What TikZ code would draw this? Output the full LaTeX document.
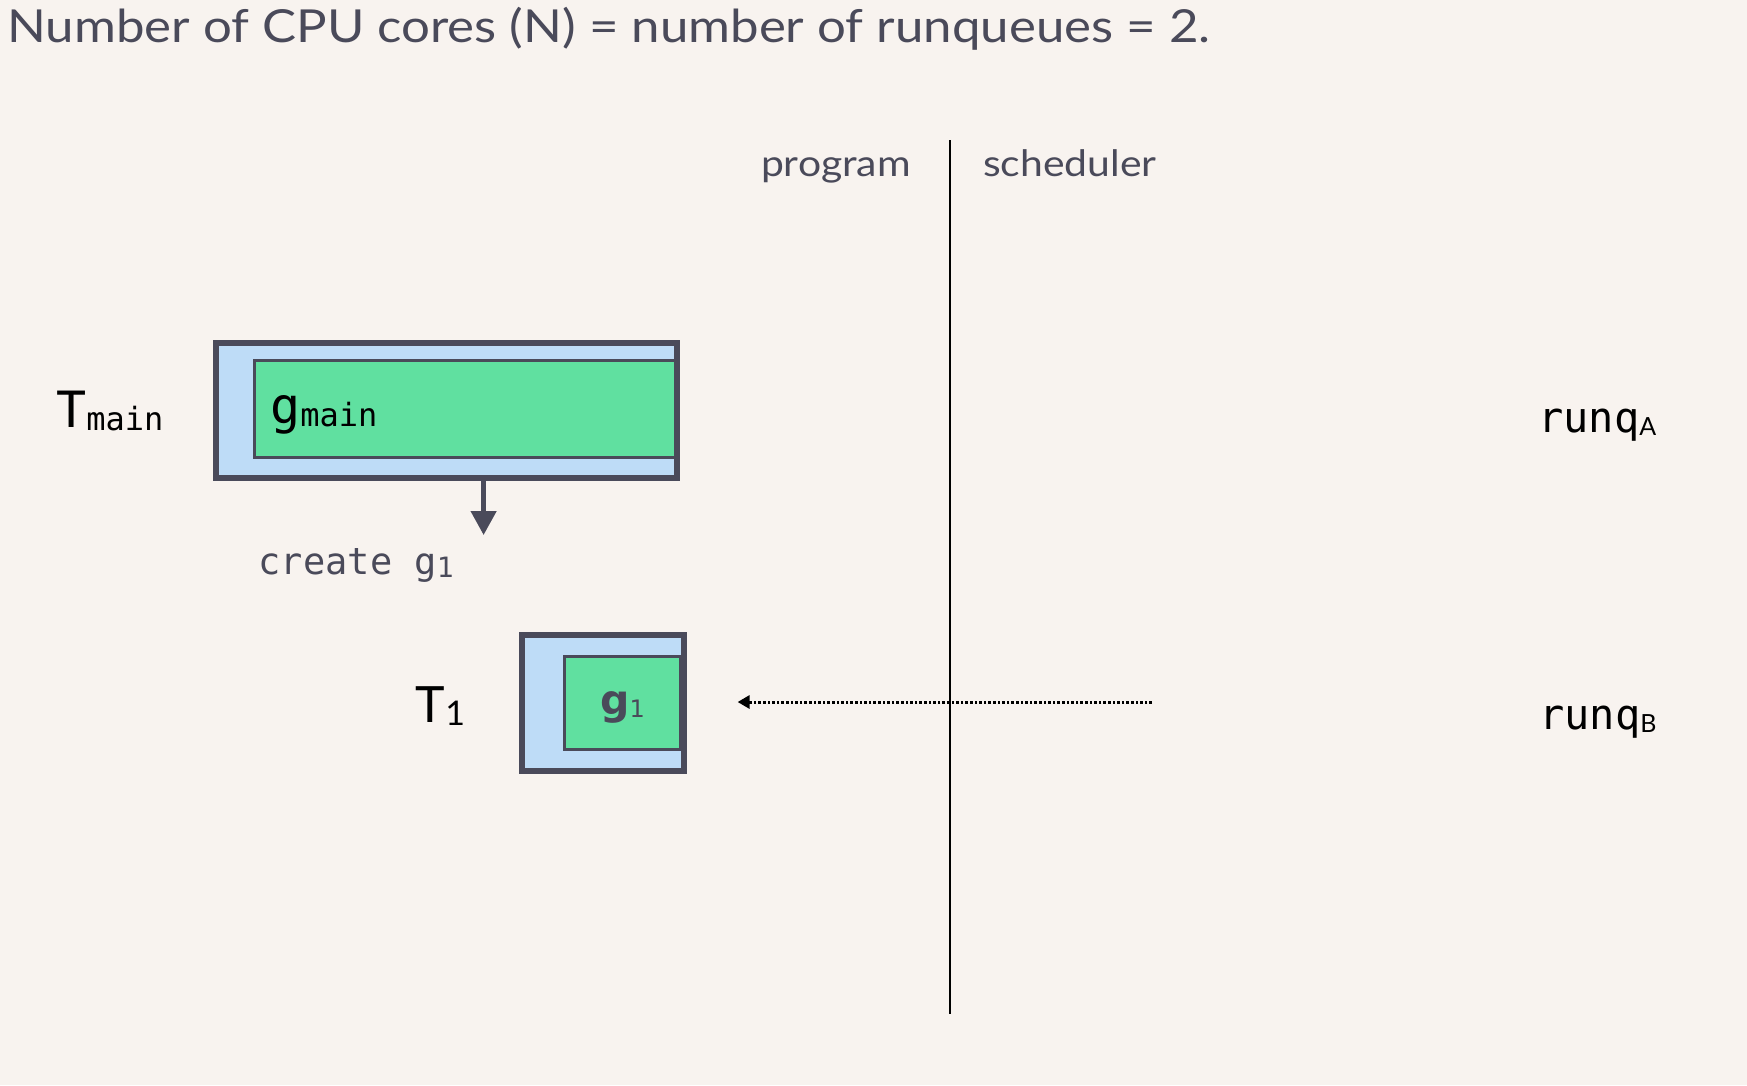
\documentclass[tikz,border=0pt]{standalone}
\usepackage{fontspec}
\setmainfont{Lato}
\newfontfamily\widefont[FakeStretch=1.12]{Lato}
\newfontfamily\monofont{DejaVu Sans Mono}
\newfontfamily\gfont{DejaVu Sans}
\usetikzlibrary{arrows.meta,positioning}
\definecolor{bgcol}{HTML}{F8F3EF}
\definecolor{threadcol}{HTML}{BEDCF7}
\definecolor{gorcol}{HTML}{60E0A0}
\definecolor{inkcol}{HTML}{4A4A5A}
\newcommand{\fsz}[1]{\fontsize{#1}{#1}\selectfont}
\newcommand{\lowsub}[1]{\raisebox{-3pt}{#1}}
\begin{document}
\begin{tikzpicture}[x=1pt,y=-1pt,
  thread/.style={draw=inkcol,fill=threadcol,line width=6pt,inner sep=0pt},
  gor/.style={draw=inkcol,fill=gorcol,line width=2.5pt,inner sep=0pt},
  lbl/.style={anchor=base west,inner sep=0pt}]
  % background
  \useasboundingbox (0,0) rectangle (1747,1085);
  \fill[bgcol] (0,0) rectangle (1747,1085);
  % title
  \node[lbl,text=inkcol] (title) at (7,42) {\widefont\fsz{45.5}Number of CPU cores (N) = number of runqueues = 2.};
  % program | scheduler
  \coordinate (divtop) at (950,140);
  \coordinate (divbot) at (950,1014);
  \draw[line width=2.2pt] (divtop) -- (divbot);
  \node[anchor=base east,inner sep=0pt,text=inkcol] (prog) at (911,176) {\widefont\fsz{36.5}program};
  \node[lbl,text=inkcol] (sched) at (983,176) {\widefont\fsz{36.5}scheduler};
  % thread T_main with g_main
  \node[thread,minimum width=461.4pt,minimum height=135.9pt] (tmain) at (446.3,410.5) {};
  \node[gor,minimum width=421.4pt,minimum height=97.4pt] (gmain) at (465,409) {};
  \node[lbl] (tmainlbl) at (56,427) {\monofont\fsz{50}T\lowsub{\fsz{32}main}};
  \node[lbl] (gmainlbl) at (270,423) {\monofont\fsz{50}g\lowsub{\fsz{32}main}};
  % create g1
  \coordinate (createtip) at (483.6,535);
  \draw[inkcol,line width=4.5pt,-{Triangle[width=25pt,length=24pt]}] (tmain.south -| createtip) -- (createtip);
  \node[lbl,text=inkcol] (createlbl) at (258.5,574) {\monofont\fsz{37}create g\lowsub{\fsz{28}1}};
  % thread T_1 with g_1
  \node[thread,minimum width=161.5pt,minimum height=136pt] (tone) at (602.75,702.5) {};
  \node[gor,minimum width=116.4pt,minimum height=93.4pt] (gone) at (622.5,703) {};
  \node[lbl] (tonelbl) at (415.6,722) {\fsz{50}T\lowsub{\fsz{34}1}};
  \node[lbl,text=inkcol] (gonelbl) at (600,714) {\gfont\bfseries\fsz{41}g\lowsub{\fsz{24}\mdseries 1}};
  % runqueues
  \node[lbl] (runqa) at (1538,432) {\monofont\fsz{42}runq\lowsub{\fsz{25}\rmfamily A}};
  \node[lbl] (runqb) at (1539,729) {\monofont\fsz{42}runq\lowsub{\fsz{25}\rmfamily B}};
  % hand-off arrow
  \coordinate (handfrom) at (1152,702);
  \coordinate (handto) at (737.6,702);
  \draw[line width=3pt,dash pattern=on 2.6pt off 2pt,-{Triangle[width=13pt,length=12pt]}] (handfrom) -- (handto);
\end{tikzpicture}
\end{document}
